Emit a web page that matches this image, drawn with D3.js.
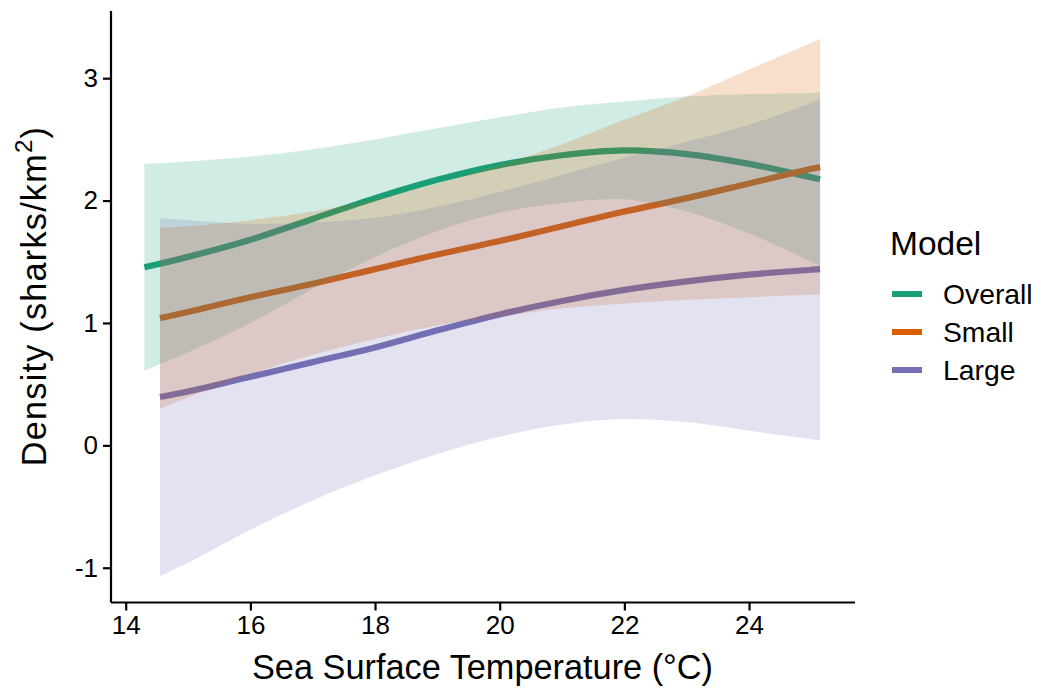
<!DOCTYPE html>
<html>
<head>
<meta charset="utf-8">
<script src="https://cdn.jsdelivr.net/npm/d3@7"></script>
<style>
  html, body { margin: 0; padding: 0; background: #fff; }
  svg { display: block; }
  text { font-family: "Liberation Sans", Arial, sans-serif; fill: #000; }
</style>
</head>
<body>
<svg id="chart" width="1041" height="692"></svg>
<script>
// ---------------- data ----------------
const seriesNames = ["Overall", "Small", "Large"];
const seriesColors = ["#1B9E77", "#D95F02", "#7570B3"];

const overallX   = [14.3, 15, 16, 17, 18, 19, 20, 21, 22, 23, 24, 25, 25.14];
const overallFit = [1.455, 1.54, 1.68, 1.85, 2.02, 2.17, 2.29, 2.37, 2.41, 2.38, 2.30, 2.19, 2.175];
const overallHi  = [2.30, 2.32, 2.36, 2.42, 2.50, 2.59, 2.68, 2.76, 2.81, 2.85, 2.87, 2.88, 2.885];
const overallLo  = [0.61, 0.76, 1.00, 1.28, 1.54, 1.75, 1.90, 1.98, 2.01, 1.91, 1.73, 1.50, 1.465];

const smallX   = [14.55, 15, 16, 17, 18, 19, 20, 21, 22, 23, 24, 25, 25.14];
const smallFit = [1.04, 1.09, 1.21, 1.32, 1.44, 1.56, 1.67, 1.79, 1.91, 2.02, 2.14, 2.26, 2.275];
const smallHi  = [1.78, 1.79, 1.84, 1.91, 2.01, 2.14, 2.29, 2.46, 2.66, 2.85, 3.07, 3.29, 3.32];
const smallLo  = [0.30, 0.39, 0.58, 0.74, 0.87, 0.98, 1.05, 1.12, 1.16, 1.19, 1.21, 1.23, 1.23];

const largeX   = [14.55, 15, 16, 17, 18, 19, 20, 21, 22, 23, 24, 25, 25.14];
const largeFit = [0.395, 0.44, 0.56, 0.68, 0.80, 0.94, 1.07, 1.18, 1.27, 1.34, 1.395, 1.435, 1.44];
const largeHi  = [1.855, 1.84, 1.81, 1.82, 1.86, 1.95, 2.07, 2.21, 2.35, 2.48, 2.62, 2.80, 2.835];
const largeLo  = [-1.07, -0.96, -0.69, -0.45, -0.245, -0.07, 0.07, 0.17, 0.215, 0.19, 0.12, 0.05, 0.04];

const xTicks = [14, 16, 18, 20, 22, 24];
const yTicks = [-1, 0, 1, 2, 3];

const xTitle = "Sea Surface Temperature (°C)";
const legendTitle = "Model";

// ---------------- build ----------------
const series = [
  { name: seriesNames[0], color: seriesColors[0], x: overallX, fit: overallFit, lo: overallLo, hi: overallHi },
  { name: seriesNames[1], color: seriesColors[1], x: smallX,   fit: smallFit,   lo: smallLo,   hi: smallHi },
  { name: seriesNames[2], color: seriesColors[2], x: largeX,   fit: largeFit,   lo: largeLo,   hi: largeHi }
].map(s => ({ ...s, pts: s.x.map((x, i) => ({ x, fit: s.fit[i], lo: s.lo[i], hi: s.hi[i] })) }));

const svg = d3.select("#chart");
const panel = { left: 111, right: 855, top: 11, bottom: 602.5 };

const x = d3.scaleLinear().domain([13.764, 25.70]).range([panel.left, panel.right]);
const y = d3.scaleLinear().domain([-1.284, 3.549]).range([panel.bottom, panel.top]);

const curve = d3.curveCatmullRom.alpha(0.5);
const line = d3.line().x(d => x(d.x)).y(d => y(d.fit)).curve(curve);
const area = d3.area().x(d => x(d.x)).y0(d => y(d.lo)).y1(d => y(d.hi)).curve(curve);

const plot = svg.append("g");
// lines first, ribbons drawn over them (as in the reference)
plot.selectAll("path.fit").data(series).join("path")
  .attr("class", "fit")
  .attr("d", d => line(d.pts))
  .attr("fill", "none")
  .attr("stroke", d => d.color)
  .attr("stroke-width", 6.2)
  .attr("stroke-linecap", "butt");

plot.selectAll("path.band").data(series).join("path")
  .attr("class", "band")
  .attr("d", d => area(d.pts))
  .attr("fill", d => d.color)
  .attr("fill-opacity", 0.2)
  .attr("stroke", "none");

// axes
const tickFont = 26;
const xAxis = d3.axisBottom(x).tickValues(xTicks).tickSize(8).tickPadding(5).tickFormat(d3.format("d"));
const yAxis = d3.axisLeft(y).tickValues(yTicks).tickSize(8).tickPadding(5).tickFormat(d => d < 0 ? "-" + Math.abs(d) : String(d));

const gx = svg.append("g").attr("transform", `translate(0,${panel.bottom})`).call(xAxis);
const gy = svg.append("g").attr("transform", `translate(${panel.left},0)`).call(yAxis);

[gx, gy].forEach(g => {
  g.select(".domain").attr("stroke", "#000").attr("stroke-width", 2.2);
  g.selectAll(".tick line").attr("stroke", "#000").attr("stroke-width", 2.2);
  g.selectAll(".tick text").attr("font-size", tickFont).attr("fill", "#000")
    .style("font-family", "'Liberation Sans', Arial, sans-serif");
});
gx.select(".domain").attr("d", `M${panel.left},0H${panel.right}`);
gy.select(".domain").attr("d", `M0,${panel.top}V${panel.bottom}`);

// axis titles
svg.append("text")
  .attr("x", 482.5)
  .attr("y", 679)
  .attr("text-anchor", "middle")
  .attr("font-size", 34.3)
  .text(xTitle);

const yt = svg.append("text")
  .attr("transform", `translate(46,296) rotate(-90)`)
  .attr("text-anchor", "middle")
  .attr("font-size", 34.3)
  .attr("letter-spacing", 1.2);
yt.append("tspan").text("Density (sharks/km");
yt.append("tspan").attr("font-size", 24).attr("dy", -14).text("2");
yt.append("tspan").attr("dy", 14).text(")");

// legend
const lg = svg.append("g");
lg.append("text").attr("x", 890).attr("y", 255).attr("font-size", 33.5).text(legendTitle);
const items = lg.selectAll("g.item").data(series).join("g")
  .attr("class", "item")
  .attr("transform", (d, i) => `translate(0,${294 + i * 38})`);
items.append("line")
  .attr("x1", 892).attr("x2", 922).attr("y1", 0).attr("y2", 0)
  .attr("stroke", d => d.color).attr("stroke-width", 6);
items.append("text")
  .attr("x", 943).attr("y", 10)
  .attr("font-size", 28.3)
  .text(d => d.name);
</script>
</body>
</html>
